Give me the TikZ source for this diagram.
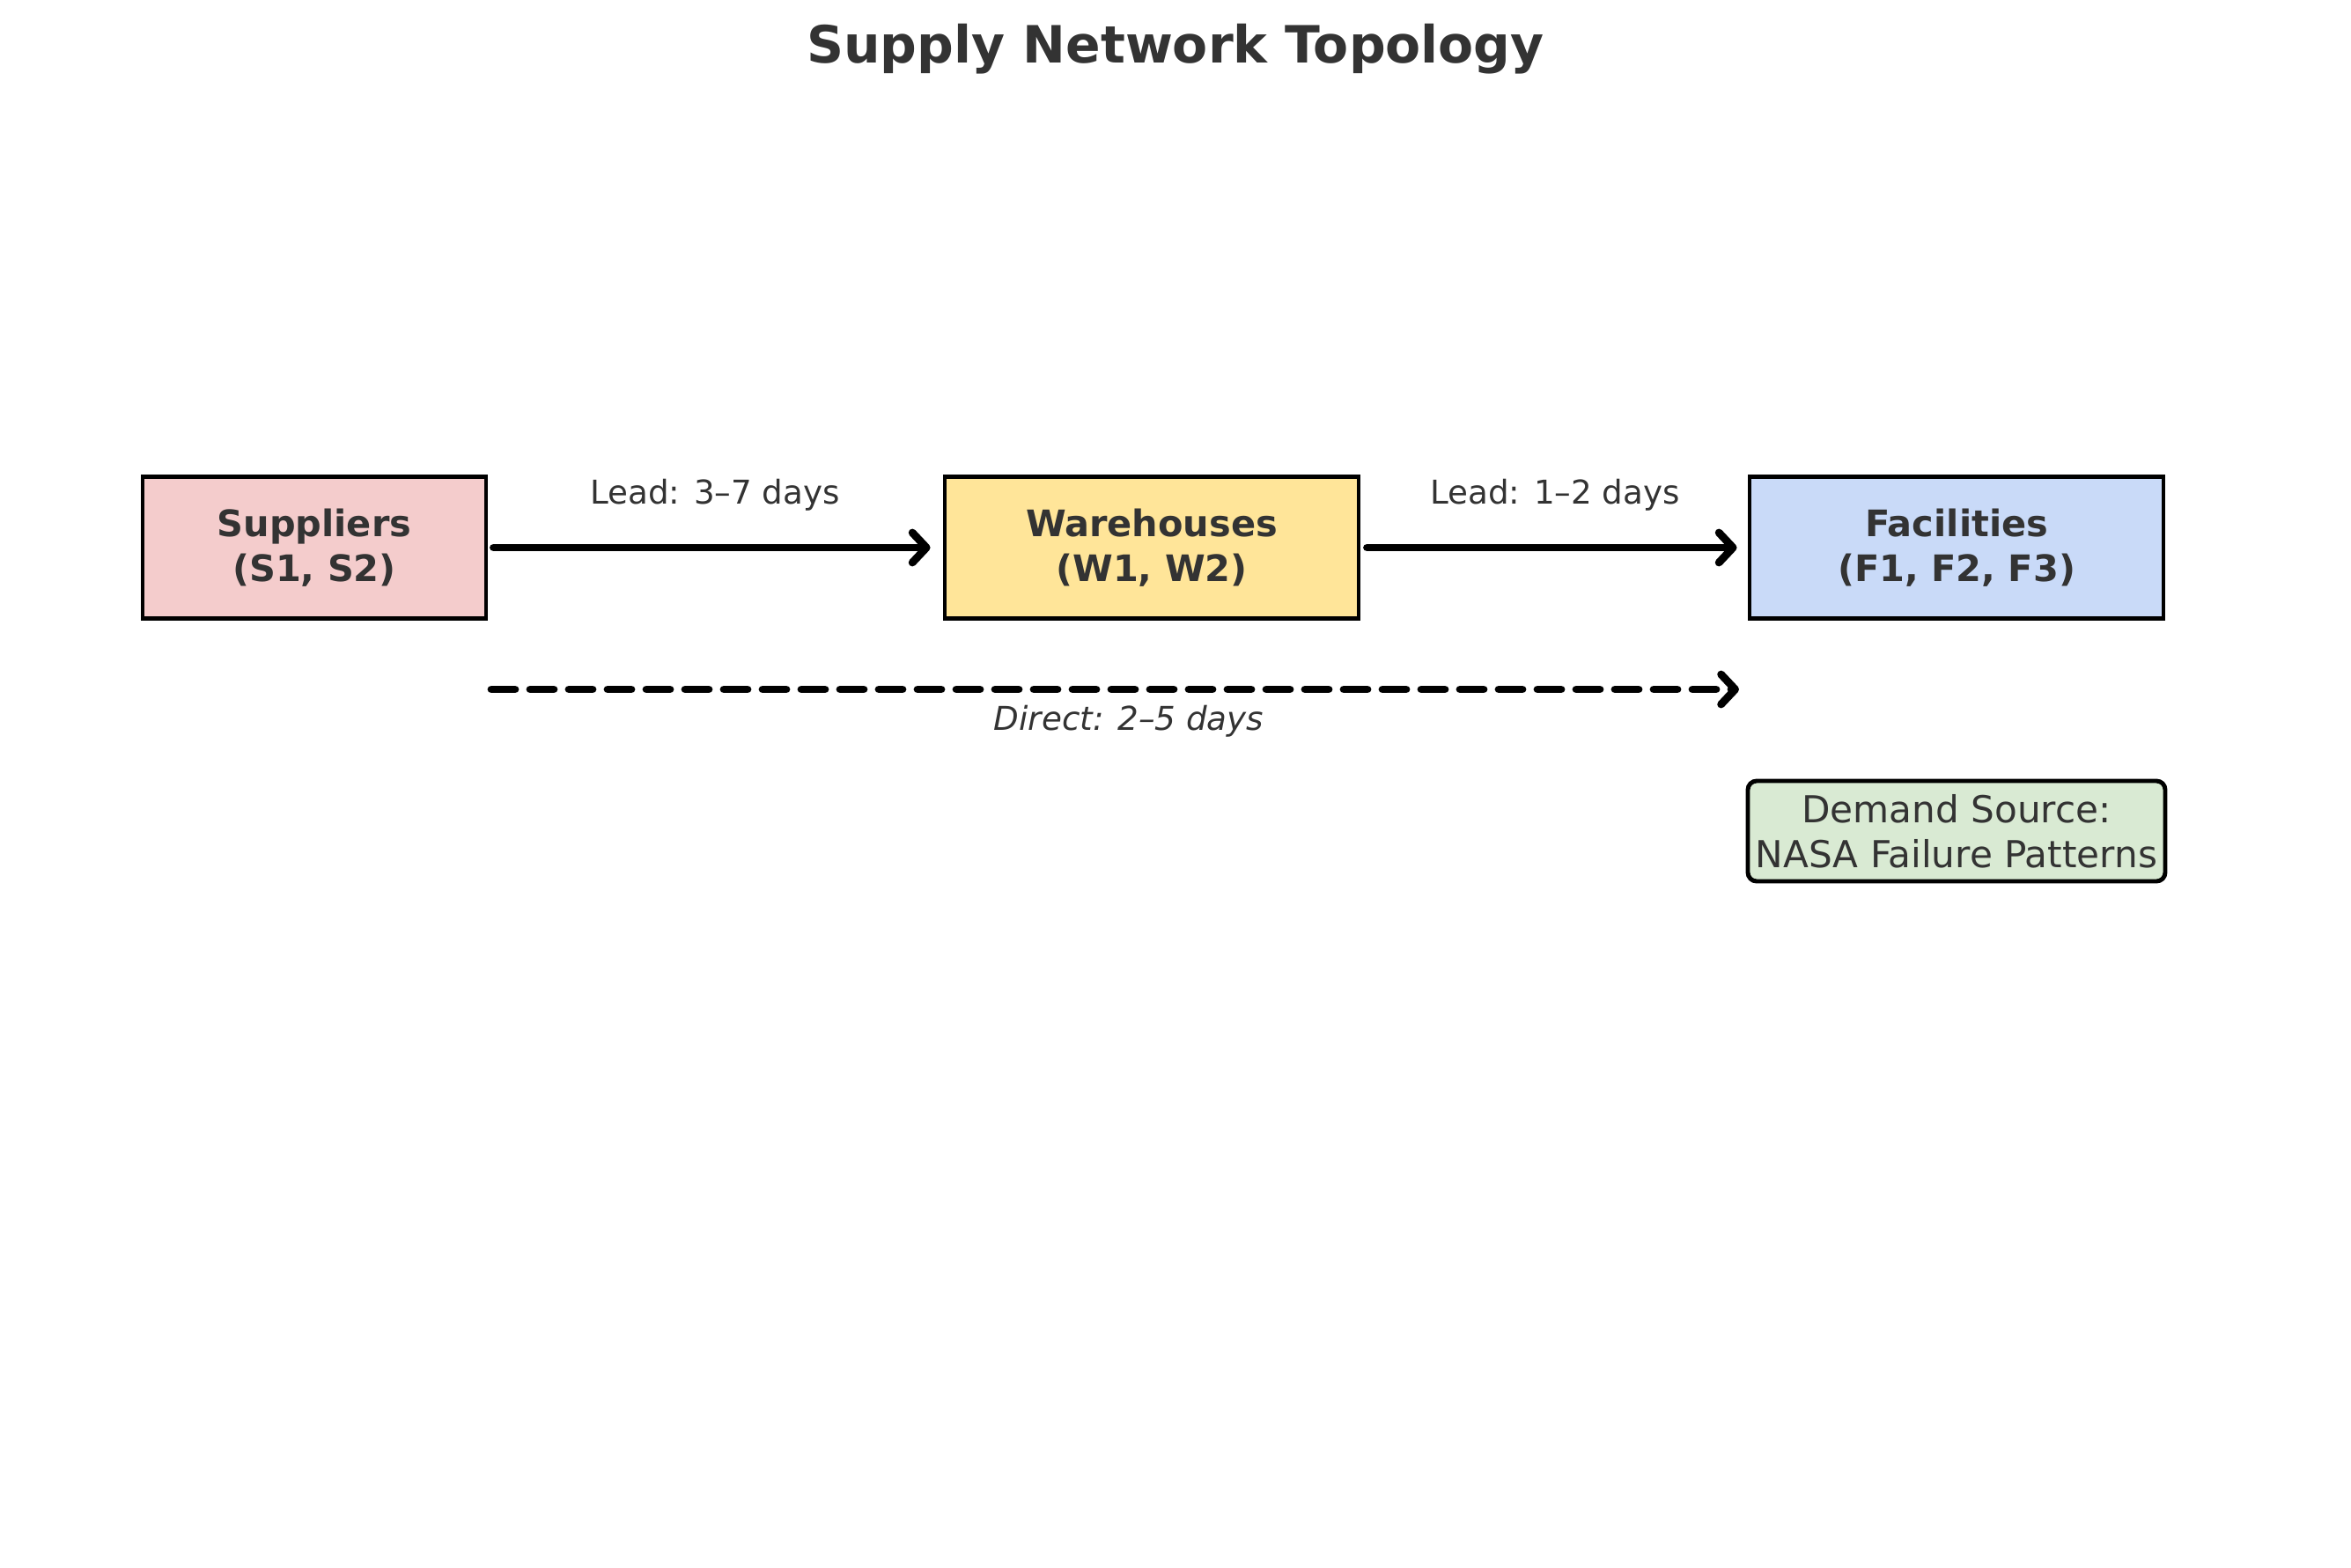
\documentclass[tikz,border=0pt]{standalone}
\usepackage{fontspec}
\setmainfont{DejaVu Sans}
\usetikzlibrary{positioning,arrows.meta}
\definecolor{txt}{HTML}{333333}
\definecolor{supfill}{HTML}{F4CCCC}
\definecolor{whfill}{HTML}{FFE599}
\definecolor{facfill}{HTML}{C9DAF8}
\definecolor{demfill}{HTML}{D9EAD3}

\begin{document}
\begin{tikzpicture}[
  box/.style={draw=black, line width=1.4pt, minimum height=1.61cm, inner sep=0pt,
    align=center, text=txt, font=\fontsize{11.8}{14.5}\selectfont\bfseries},
  flow/.style={line width=2.5pt, line cap=round,
    -{Straight Barb[round, length=0.16cm, width=0.34cm, line width=2.5pt]}},
  lbl/.style={text=txt, font=\fontsize{10.6}{12}\selectfont}
]
\useasboundingbox (0,0) rectangle (26.70,-17.81);
\node[font=\fontsize{16.6}{20}\selectfont\bfseries, text=txt] (title) at (13.35,-0.56) {Supply Network Topology};
\node[box, fill=supfill, minimum width=3.90cm] (s) at (3.57,-6.22) {Suppliers\\(S1, S2)}; %S
\node[box, fill=whfill, minimum width=4.70cm] (w) at (13.08,-6.22) {Warehouses\\(W1, W2)}; %W
\node[box, fill=facfill, minimum width=4.70cm] (f) at (22.22,-6.22) {Facilities\\(F1, F2, F3)}; %F
\node[draw=black, line width=1.4pt, rounded corners=0.1cm, fill=demfill, minimum width=4.74cm,
  minimum height=1.14cm, inner sep=0pt, align=center, text=txt,
  font=\fontsize{12}{14.5}\selectfont] (d) at (22.22,-9.44) {Demand Source:\\NASA Failure Patterns};
  %----lead times----%
  \draw[flow, shorten <=0.06cm, shorten >=0.14cm] (s.east) -- (w.west);
  \draw[flow, shorten <=0.07cm, shorten >=0.12cm] (w.east) -- (f.west);
  \node[lbl] (l1) at (8.12,-5.62) {Lead: 3–7 days};
  \node[lbl] (l2) at (17.66,-5.62) {Lead: 1–2 days};
  %----direct----%
  \coordinate (ds) at (5.58,-7.83);
  \coordinate (df) at (19.75,-7.83);
  \draw[flow, dash pattern=on 0.27cm off 0.17cm] (ds) -- (df);
  \node[lbl, font=\fontsize{10.6}{12}\selectfont\itshape] (l3) at (12.82,-8.19) {Direct: 2–5 days};
\end{tikzpicture}
\end{document}
